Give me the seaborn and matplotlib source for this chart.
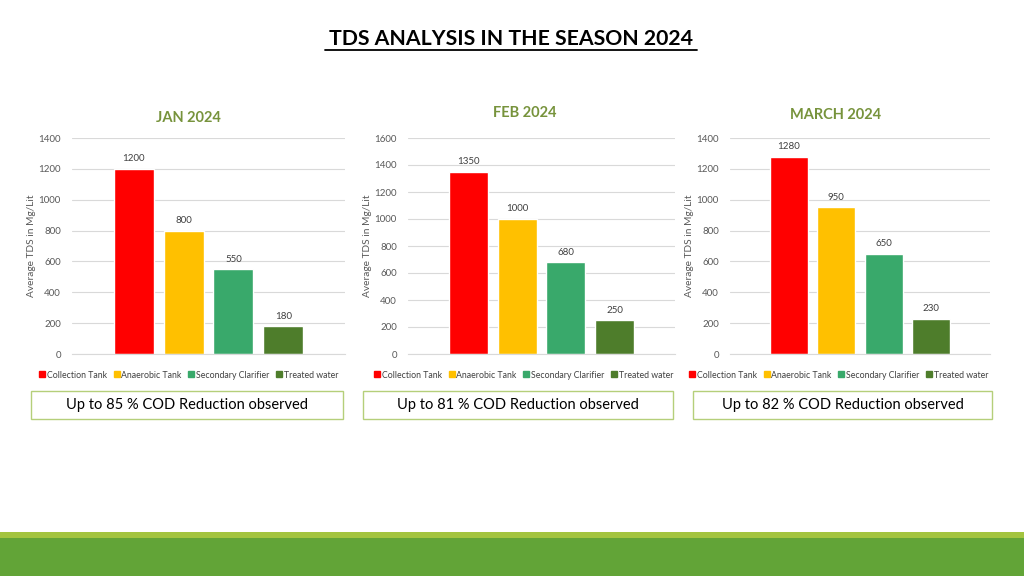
import matplotlib
matplotlib.use("Agg")
import seaborn as sns
from matplotlib import pyplot as plt
from matplotlib.lines import Line2D
from matplotlib.patches import Rectangle

# data
stages = ["Collection Tank", "Anaerobic Tank", "Secondary Clarifier", "Treated water"]
stage_colors = ["#FF0000", "#FFC000", "#39A96B", "#4E7D2B"]
months = ["JAN 2024", "FEB 2024", "MARCH 2024"]
jan_tds = [1200, 800, 550, 180]
feb_tds = [1350, 1000, 680, 250]
mar_tds = [1280, 950, 650, 230]
y_max = [1400, 1600, 1400]
cod_notes = ["Up to 85 % COD Reduction observed",
             "Up to 81 % COD Reduction observed",
             "Up to 82 % COD Reduction observed"]

sns.set_style("white")
plt.rcParams["font.family"] = ["Lato", "DejaVu Sans"]

W, H = 1024, 576
fig = plt.figure(figsize=(W / 100, H / 100), dpi=100)

def fx(px):
    return px / W

def fy(py):
    return 1 - py / H

# (grid left, grid right, title x, title y, legend x, box left, box right)
panels = [
    (72, 345, 188, 118, 188, 31, 343),
    (408, 675, 525, 113, 523, 363, 673),
    (730, 990, 836, 115, 838, 693, 992),
]
series = [jan_tds, feb_tds, mar_tds]

for i, (gl, gr, tx, ty, lx, bl, br) in enumerate(panels):
    ax = fig.add_axes([fx(gl), fy(354), fx(gr - gl), 216 / H])
    sns.barplot(x=stages, y=series[i], hue=stages, palette=stage_colors,
                width=0.8, ax=ax, legend=False, saturation=1)
    ax.set_xlim(-1.24, 4.24)
    ax.set_ylim(0, y_max[i])
    ax.set_yticks(range(0, y_max[i] + 1, 200))
    ax.yaxis.grid(True, color="#D9D9D9", lw=0.8)
    ax.set_axisbelow(True)
    for s in ["top", "right", "left"]:
        ax.spines[s].set_visible(False)
    ax.spines["bottom"].set_color("#D9D9D9")
    ax.set_xticks([])
    ax.set_xlabel("")
    ax.tick_params(axis="y", labelsize=7, colors="#595959", length=0, pad=8)
    ax.set_ylabel("Average TDS in Mg/Lit", fontsize=7.3, color="#595959", labelpad=2)
    for c in ax.containers:
        ax.bar_label(c, fontsize=7, color="#404040", padding=4)

    fig.text(fx(tx), fy(ty), months[i], ha="center", va="center",
             fontsize=10.5, fontweight="bold", color="#77933C")

    handles = [Line2D([], [], marker="s", ls="", color=c, markersize=5)
               for c in stage_colors]
    fig.legend(handles, stages, loc="center", bbox_to_anchor=(fx(lx), fy(375)),
               ncol=4, frameon=False, fontsize=6.3, handletextpad=0.05,
               columnspacing=0.6, handlelength=1.0, labelcolor="#404040")

    fig.patches.append(Rectangle((fx(bl), fy(419)), fx(br - bl), 28 / H,
                                 transform=fig.transFigure, fill=False,
                                 edgecolor="#B5CF7A", lw=1))
    fig.text(fx((bl + br) / 2), fy(405), cod_notes[i], ha="center", va="center",
             fontsize=10.5, color="#000000")

fig.text(fx(511), fy(39), "TDS ANALYSIS IN THE SEASON 2024", ha="center",
         va="center", fontsize=15.3, fontweight="bold", color="#000000")
fig.add_artist(Line2D([fx(325), fx(697)], [fy(50), fy(50)], color="black", lw=1.3))

# green footer band
fig.patches.append(Rectangle((0, fy(538)), 1, 6 / H, transform=fig.transFigure,
                             color="#A3C43F", lw=0))
fig.patches.append(Rectangle((0, 0), 1, fy(538), transform=fig.transFigure,
                             color="#62A437", lw=0))

fig.savefig("out.png", dpi=100)
